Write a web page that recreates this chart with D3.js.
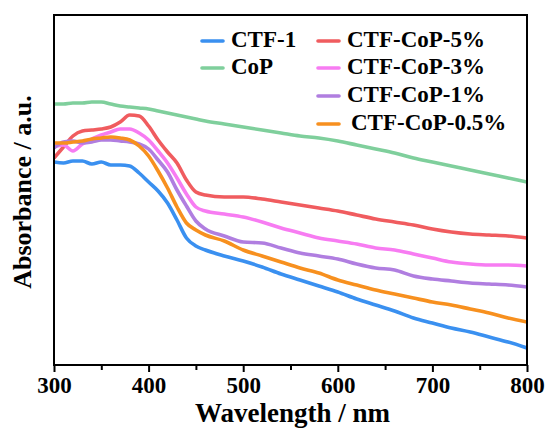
<!DOCTYPE html>
<html>
<head>
<meta charset="utf-8">
<script src="https://cdn.jsdelivr.net/npm/d3@7"></script>
<style>
  html, body { margin: 0; padding: 0; background: #fff; }
  svg text { font-family: "Liberation Serif", "Times New Roman", serif; font-weight: bold; fill: #000; }
</style>
</head>
<body>
<svg id="chart" width="547" height="439"></svg>
<script>
// Wavelength grid (nm)
const wavelengths = [300,310,320,330,340,350,360,370,380,390,400,410,420,430,440,450,460,
  480,500,520,540,560,580,600,620,640,660,680,700,720,740,760,780,800];

// Absorbance (a.u.) per sample
const ctf1 = [2.03,2.02,2.04,2.04,2.01,2.03,2.00,2.00,1.99,1.92,1.83,1.74,1.62,1.45,1.27,1.19,1.15,
  1.09,1.04,0.98,0.91,0.85,0.79,0.73,0.66,0.60,0.54,0.47,0.42,0.37,0.33,0.28,0.23,0.17];
const cop = [2.61,2.61,2.62,2.62,2.63,2.63,2.61,2.59,2.58,2.57,2.56,2.54,2.52,2.50,2.48,2.46,2.44,
  2.41,2.38,2.35,2.32,2.29,2.27,2.24,2.20,2.16,2.12,2.07,2.03,1.99,1.95,1.91,1.87,1.83];
const ctfCoP5 = [2.07,2.18,2.29,2.34,2.35,2.36,2.38,2.43,2.50,2.49,2.39,2.25,2.13,2.02,1.85,1.73,1.70,
  1.68,1.68,1.66,1.63,1.60,1.57,1.54,1.50,1.46,1.43,1.40,1.36,1.33,1.31,1.30,1.29,1.27];
const ctfCoP3 = [2.18,2.20,2.14,2.21,2.26,2.30,2.33,2.36,2.36,2.32,2.25,2.14,2.02,1.87,1.71,1.58,1.54,
  1.51,1.48,1.43,1.37,1.32,1.27,1.24,1.21,1.17,1.15,1.11,1.07,1.03,1.01,1.00,1.00,0.99];
const ctfCoP1 = [2.17,2.23,2.24,2.22,2.23,2.25,2.25,2.24,2.23,2.21,2.16,2.05,1.93,1.75,1.59,1.44,1.36,
  1.29,1.23,1.22,1.17,1.12,1.09,1.06,1.01,0.97,0.95,0.89,0.86,0.84,0.82,0.81,0.80,0.78];
const ctfCoP05 = [2.22,2.22,2.23,2.24,2.26,2.27,2.28,2.27,2.25,2.19,2.09,1.94,1.77,1.58,1.42,1.35,1.30,
  1.24,1.15,1.09,1.03,0.97,0.92,0.85,0.80,0.75,0.71,0.67,0.63,0.60,0.56,0.52,0.47,0.43];

const seriesNames = ["CTF-1","CoP","CTF-CoP-5%","CTF-CoP-3%","CTF-CoP-1%","CTF-CoP-0.5%"];
const seriesColors = ["#3a90f0","#7fcf9c","#f05c5f","#f77cf2","#b07ee0","#f7901f"];
const seriesValues = [ctf1, cop, ctfCoP5, ctfCoP3, ctfCoP1, ctfCoP05];

const xTicks = [300,400,500,600,700,800];
const xMinorTicks = [350,450,550,650,750];

const svg = d3.select("#chart");
const margin = {left: 54, right: 20, top: 15, bottom: 74};
const W = 547, H = 439;
const x = d3.scaleLinear().domain([300, 800]).range([margin.left, W - margin.right]);
const y = d3.scaleLinear().domain([0, 3.5]).range([H - margin.bottom, margin.top]);

svg.append("defs").append("clipPath").attr("id", "plot")
  .append("rect")
  .attr("x", x(300)).attr("y", y(3.5))
  .attr("width", x(800) - x(300)).attr("height", y(0) - y(3.5));

// Spectra
const line = d3.line()
  .x(d => x(d[0]))
  .y(d => y(d[1]))
  .curve(d3.curveMonotoneX);

const g = svg.append("g").attr("clip-path", "url(#plot)");
seriesValues.forEach((vals, i) => {
  g.append("path")
    .datum(wavelengths.map((w, j) => [w, vals[j]]))
    .attr("fill", "none")
    .attr("stroke", seriesColors[i])
    .attr("stroke-width", 3.6)
    .attr("stroke-linejoin", "round")
    .attr("d", line);
});

// Frame
svg.append("rect")
  .attr("x", x(300)).attr("y", y(3.5))
  .attr("width", x(800) - x(300)).attr("height", y(0) - y(3.5))
  .attr("fill", "none").attr("stroke", "#000").attr("stroke-width", 2);

// Bottom axis: major ticks with labels, minor ticks between
const xAxis = d3.axisBottom(x).tickValues(xTicks).tickSize(7).tickPadding(5).tickFormat(d3.format("d"));
const ax = svg.append("g").attr("transform", `translate(0,${y(0)})`).call(xAxis);
ax.select(".domain").remove();
ax.selectAll(".tick line").attr("stroke", "#000").attr("stroke-width", 2);
ax.selectAll(".tick text")
  .style("font-family", "'Liberation Serif', 'Times New Roman', serif")
  .style("font-weight", "bold")
  .style("font-size", "23px")
  .attr("fill", "#000");

const axMinor = d3.axisBottom(x).tickValues(xMinorTicks).tickSize(5).tickFormat("");
const am = svg.append("g").attr("transform", `translate(0,${y(0)})`).call(axMinor);
am.select(".domain").remove();
am.selectAll(".tick line").attr("stroke", "#000").attr("stroke-width", 2);

// Axis titles
svg.append("text")
  .attr("x", (x(300) + x(800)) / 2 + 2).attr("y", 422)
  .attr("text-anchor", "middle")
  .style("font-size", "27px")
  .text("Wavelength / nm");

svg.append("text")
  .attr("transform", `translate(31,192) rotate(-90)`)
  .attr("text-anchor", "middle")
  .style("font-size", "26px")
  .text("Absorbance / a.u.");

// Legend: two columns
const legendPos = [
  {lx: 202, ly: 41, tx: 231},
  {lx: 202, ly: 68, tx: 231},
  {lx: 318, ly: 41, tx: 347},
  {lx: 318, ly: 68, tx: 347},
  {lx: 318, ly: 96, tx: 347},
  {lx: 318, ly: 124, tx: 351}
];
seriesNames.forEach((name, i) => {
  const p = legendPos[i];
  svg.append("line")
    .attr("x1", p.lx).attr("x2", p.lx + 21)
    .attr("y1", p.ly).attr("y2", p.ly)
    .attr("stroke", seriesColors[i]).attr("stroke-width", 3.6)
    .attr("stroke-linecap", "round");
  svg.append("text")
    .attr("x", p.tx).attr("y", p.ly + 6)
    .style("font-size", "23px")
    .text(name);
});
</script>
</body>
</html>
